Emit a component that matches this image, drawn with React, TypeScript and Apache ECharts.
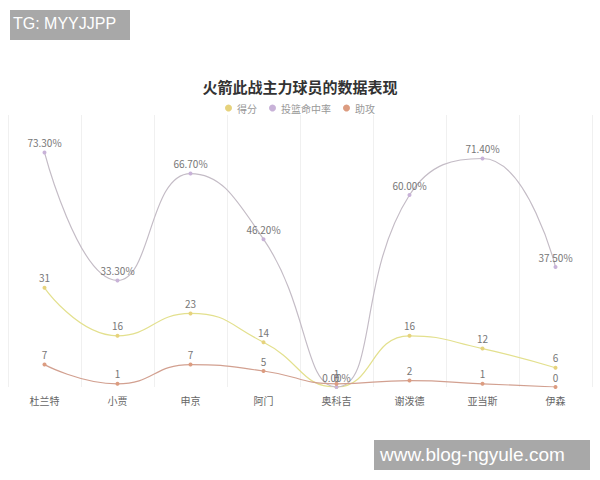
import React, { useEffect, useRef } from 'react';
import * as echarts from 'echarts';

const players = ['杜兰特', '小贾', '申京', '阿门', '奥科吉', '谢泼德', '亚当斯', '伊森'];
const points = [31, 16, 23, 14, 0, 16, 12, 6];
const fgPct = [73.3, 33.3, 66.7, 46.2, 0, 60.0, 71.4, 37.5];
const assists = [7, 1, 7, 5, 1, 2, 1, 0];

export default function App() {
  const chartRef = useRef<HTMLDivElement>(null);

  useEffect(() => {
    if (!chartRef.current) return;
    const chart = echarts.init(chartRef.current, null, { renderer: 'svg' });

    const labelStyle = { show: true, position: 'top', color: '#777', fontSize: 10, distance: 3 };

    chart.setOption({
      animation: false,
      backgroundColor: '#fff',
      textStyle: { fontFamily: '"Noto Sans CJK SC", "Noto Sans", sans-serif' },
      title: {
        text: '火箭此战主力球员的数据表现',
        left: 'center',
        top: 74,
        textStyle: { fontSize: 15, fontWeight: 'bold', color: '#333' }
      },
      legend: {
        top: 98,
        left: 'center',
        icon: 'circle',
        itemWidth: 7,
        itemHeight: 7,
        itemGap: 12,
        textStyle: { fontSize: 10, color: '#999' },
        data: ['得分', '投篮命中率', '助攻']
      },
      grid: { left: 8, right: 8, top: 115, bottom: 93 },
      xAxis: {
        type: 'category',
        data: players,
        boundaryGap: true,
        axisLine: { show: false },
        axisTick: { show: false },
        axisLabel: { color: '#666', fontSize: 10, margin: 8 },
        splitLine: { show: true, lineStyle: { color: '#f0f0f0' } }
      },
      yAxis: {
        type: 'value',
        min: 0,
        max: 85,
        show: false,
        splitLine: { show: false }
      },
      series: [
        {
          name: '得分',
          type: 'line',
          smooth: true,
          data: points,
          symbol: 'circle',
          symbolSize: 4,
          itemStyle: { color: '#e6d27c' },
          lineStyle: { color: '#e3e08e', width: 1.2 },
          label: labelStyle
        },
        {
          name: '投篮命中率',
          type: 'line',
          smooth: true,
          data: fgPct,
          symbol: 'circle',
          symbolSize: 4,
          itemStyle: { color: '#c8b2d8' },
          lineStyle: { color: '#c4bcc6', width: 1.2 },
          label: { ...labelStyle, formatter: (p: any) => p.value.toFixed(2) + '%' }
        },
        {
          name: '助攻',
          type: 'line',
          smooth: true,
          data: assists,
          symbol: 'circle',
          symbolSize: 4,
          itemStyle: { color: '#dc9c80' },
          lineStyle: { color: '#d2a090', width: 1.2 },
          label: labelStyle
        }
      ],
      graphic: [
        { type: 'rect', left: 10, top: 10, shape: { width: 120, height: 30 }, style: { fill: '#a8a8a8' } },
        {
          type: 'text', left: 13, top: 15,
          style: { text: 'TG: MYYJJPP', fill: '#fff', fontSize: 16, fontFamily: 'Liberation Sans, Arial, sans-serif' }
        },
        { type: 'rect', left: 374, top: 440, shape: { width: 216, height: 30 }, style: { fill: '#a8a8a8' } },
        {
          type: 'text', left: 380, top: 445,
          style: { text: 'www.blog-ngyule.com', fill: '#fff', fontSize: 19, fontFamily: 'Liberation Sans, Arial, sans-serif' }
        }
      ]
    });

    return () => chart.dispose();
  }, []);

  return <div ref={chartRef} style={{ position: 'absolute', left: 0, top: 0, width: 600, height: 480 }} />;
}
